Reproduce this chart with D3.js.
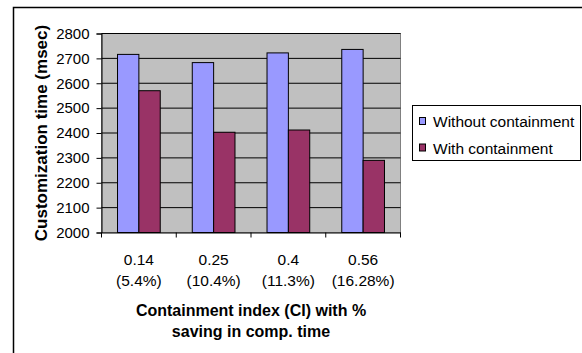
<!DOCTYPE html>
<html><head><meta charset="utf-8">
<script src="https://cdn.jsdelivr.net/npm/d3@7"></script>
<style>body{margin:0;background:#fff}svg{display:block}text{font-family:Arial,"Liberation Sans",sans-serif}</style>
</head><body><svg id="c" width="582" height="353"></svg>
<script>
const categories = ["0.14", "0.25", "0.4", "0.56"];
const savings = ["(5.4%)", "(10.4%)", "(11.3%)", "(16.28%)"];
const seriesNames = ["Without containment", "With containment"];
const withoutContainment = [2716, 2683, 2722, 2736];
const withContainment = [2570, 2403, 2412, 2290];
const yTicks = [2000, 2100, 2200, 2300, 2400, 2500, 2600, 2700, 2800];
const colors = ["#9999FF", "#993366"];

const FONT = "Arial, 'Liberation Sans', sans-serif";
const svg = d3.select("#c");
// outer chart border
svg.append("rect").attr("x", 13.5).attr("y", 7.5).attr("width", 600).attr("height", 400)
  .attr("fill", "#fff").attr("stroke", "#000").attr("stroke-width", 1.5);

const L = 101.5, R = 400.5, T = 33.5, B = 232.5;
const x = d3.scaleBand().domain(categories).range([L, R]).paddingInner(0).paddingOuter(0);
const y = d3.scaleLinear().domain([2000, 2800]).range([B, T]);

svg.append("rect").attr("x", L).attr("y", T).attr("width", R - L).attr("height", B - T)
  .attr("fill", "#C0C0C0").attr("stroke", "#808080").attr("stroke-width", 1);

// gridlines
svg.append("g").selectAll("line").data(yTicks.slice(1)).join("line")
  .attr("x1", L).attr("x2", R).attr("y1", d => y(d)).attr("y2", d => y(d))
  .attr("stroke", "#000").attr("stroke-width", 1);

// bars
const bw = x.bandwidth() / 3.5;
const data = categories.map((c, i) => [withoutContainment[i], withContainment[i]]);
const g = svg.append("g");
data.forEach((vals, i) => {
  vals.forEach((v, s) => {
    const bx = x(categories[i]) + 0.75 * bw + s * bw;
    g.append("rect").attr("x", bx).attr("y", y(v)).attr("width", bw).attr("height", y(2000) - y(v))
      .attr("fill", colors[s]).attr("stroke", "#000").attr("stroke-width", 1);
  });
});

// y axis
const ya = d3.axisLeft(y).tickValues(yTicks).tickSize(5).tickPadding(7).tickFormat(d3.format("d"));
const yg = svg.append("g").attr("transform", `translate(${L},0)`).call(ya);
yg.attr("font-size", 15).attr("font-family", FONT);
yg.select(".domain").attr("stroke", "#000");
yg.selectAll("text").attr("fill", "#000");

// x axis
const xa = d3.axisBottom(x).tickSize(0).tickFormat(() => "");
const xg = svg.append("g").attr("transform", `translate(0,${B})`).call(xa);
xg.select(".domain").attr("stroke", "#000");
xg.selectAll("line.sep").data(d3.range(categories.length + 1)).join("line").attr("class", "sep")
  .attr("x1", i => L + i * x.step()).attr("x2", i => L + i * x.step())
  .attr("y1", 0).attr("y2", 5).attr("stroke", "#000");

// x labels
categories.forEach((c, i) => {
  const cx = x(c) + x.bandwidth() / 2;
  svg.append("text").attr("x", cx).attr("y", 265).attr("text-anchor", "middle").attr("font-size", 15.5).text(c);
  svg.append("text").attr("x", cx).attr("y", 286).attr("text-anchor", "middle").attr("font-size", 15.5).text(savings[i]);
});

// x title
svg.append("text").attr("x", (L + R) / 2).attr("y", 316).attr("text-anchor", "middle")
  .attr("font-size", 16).attr("font-weight", "bold").text("Containment index (CI) with %");
svg.append("text").attr("x", (L + R) / 2).attr("y", 337).attr("text-anchor", "middle")
  .attr("font-size", 16).attr("font-weight", "bold").text("saving in comp. time");

// y title
svg.append("text").attr("transform", `translate(46.5,133) rotate(-90)`).attr("text-anchor", "middle")
  .attr("font-size", 17).attr("font-weight", "bold").text("Customization time (msec)");

// legend
const lg = svg.append("g");
lg.append("rect").attr("x", 412.5).attr("y", 105.5).attr("width", 168).attr("height", 55)
  .attr("fill", "#fff").attr("stroke", "#000").attr("stroke-width", 1);
seriesNames.forEach((n, i) => {
  const yy = 121 + i * 26.5;
  lg.append("rect").attr("x", 419.5).attr("y", yy - 3.5).attr("width", 6).attr("height", 7)
    .attr("fill", colors[i]).attr("stroke", "#000").attr("stroke-width", 1);
  lg.append("text").attr("x", 433).attr("y", yy + 6).attr("font-size", 15.5).text(n);
});
</script></body></html>
